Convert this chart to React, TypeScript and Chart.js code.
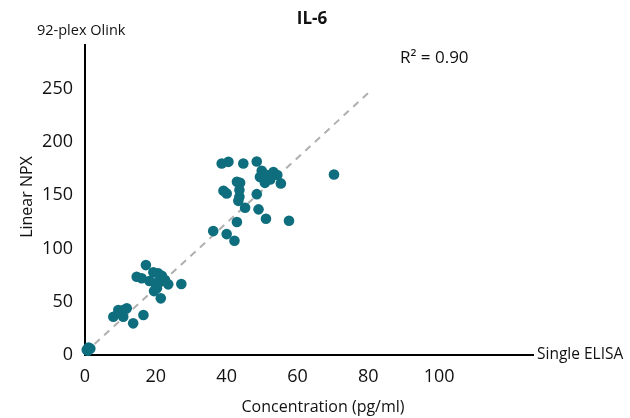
import React, { useEffect, useRef } from "react";
import { Chart, registerables } from "chart.js";

Chart.register(...registerables);

const chartTitle = "IL-6";
const xAxisTitle = "Concentration (pg/ml)";
const yAxisTitle = "Linear NPX";
const yCornerLabel = "92-plex Olink";
const xCornerLabel = "Single ELISA";
const r2Label = "R² = 0.90";

const xTicks = [0, 20, 40, 60, 80, 100];
const yTicks = [0, 50, 100, 150, 200, 250];

// ELISA concentration (pg/ml)
const elisaValues = [
  0.5, 1.0, 1.5, 0.8,
  8.0, 9.4, 10.1, 10.8, 11.8, 10.8, 13.6, 16.5,
  17.2, 14.6, 16.0, 19.3, 20.7, 21.7, 18.2, 19.8, 21.2, 22.6, 23.5, 20.3, 19.5, 27.2, 21.4,
  38.6, 40.5, 44.7, 48.5, 49.9, 51.1, 53.2, 54.3, 55.3, 50.8, 52.3, 49.4,
  42.9, 43.8, 39.1, 40.0, 43.6, 43.6, 43.3, 48.5, 45.2, 49.0,
  42.9, 51.1, 57.6, 36.2, 40.0, 42.2, 70.3,
];
// Olink linear NPX
const npxValues = [
  5, 7, 6, 4,
  35.9, 42.2, 39.1, 35.9, 43.8, 42.2, 29.7, 37.5,
  84.4, 73.5, 72.0, 77.6, 76.6, 74.4, 69.4, 67.3, 68.8, 70.4, 66.3, 62.6, 60.0, 66.6, 53.2,
  179.8, 181.3, 179.8, 181.7, 172.9, 169.1, 171.7, 168.9, 161.1, 161.6, 164.8, 167.0,
  162.6, 161.6, 154.1, 151.7, 154.8, 148.5, 144.7, 151.0, 138.2, 136.7,
  124.8, 127.9, 126.0, 116.3, 113.5, 107.2, 169.5,
];

const trendX = [0, 80];
const trendY = [2, 246];

const textColor = "#111111";
const fontFamily = "'Open Sans', 'Noto Sans', sans-serif";

const textPlugin = {
  id: "extraText",
  afterDraw(chart: any) {
    const ctx = chart.ctx;
    ctx.save();
    ctx.fillStyle = textColor;
    ctx.textBaseline = "middle";

    ctx.font = `bold 17px ${fontFamily}`;
    ctx.textAlign = "center";
    ctx.fillText(chartTitle, 312, 19);

    ctx.font = `14.5px ${fontFamily}`;
    ctx.textAlign = "left";
    ctx.fillText(yCornerLabel, 37, 31);
    ctx.font = `15.5px ${fontFamily}`;
    ctx.fillText(xCornerLabel, 537, 355);

    ctx.font = `17px ${fontFamily}`;
    ctx.fillText(r2Label, 400, 58);

    ctx.font = `16px ${fontFamily}`;
    ctx.textAlign = "center";
    ctx.fillText(xAxisTitle, 323, 407);

    ctx.translate(27, 197);
    ctx.rotate(-Math.PI / 2);
    ctx.fillText(yAxisTitle, 0, 0);
    ctx.restore();
  },
};

export default function App() {
  const canvasRef = useRef<HTMLCanvasElement | null>(null);

  useEffect(() => {
    document.body.style.margin = "0";
    const canvas = canvasRef.current;
    if (!canvas) return;
    const points = elisaValues.map((x, i) => ({ x, y: npxValues[i] }));
    const trend = trendX.map((x, i) => ({ x, y: trendY[i] }));
    const chart = new Chart(canvas, {
      type: "scatter",
      data: {
        datasets: [
          {
            type: "line",
            data: trend,
            borderColor: "#AFAFAF",
            borderWidth: 2,
            borderDash: [7, 6],
            pointRadius: 0,
            fill: false,
            order: 2,
          } as any,
          {
            data: points,
            backgroundColor: "#0F6E7D",
            borderColor: "#0F6E7D",
            borderWidth: 0,
            pointRadius: 5.3,
            clip: false,
            order: 1,
          } as any,
        ],
      },
      options: {
        animation: false,
        responsive: false,
        maintainAspectRatio: false,
        devicePixelRatio: 1,
        layout: {
          autoPadding: false,
          padding: { top: 45, right: 97, left: 0, bottom: 0 },
        },
        plugins: {
          legend: { display: false },
          tooltip: { enabled: false },
          title: { display: false },
        },
        scales: {
          x: {
            type: "linear",
            min: 0,
            max: 126.5,
            grid: { display: false, drawTicks: false },
            border: { display: true, color: "#000", width: 2 },
            afterFit: (s: any) => {
              s.height = 63;
            },
            afterBuildTicks: (s: any) => {
              s.ticks = xTicks.map((v) => ({ value: v }));
            },
            ticks: {
              padding: 11,
              color: textColor,
              maxRotation: 0,
              font: { family: fontFamily, size: 18 },
            },
          },
          y: {
            type: "linear",
            min: 0,
            max: 291,
            grid: { display: false, drawTicks: false },
            border: { display: true, color: "#000", width: 2 },
            afterFit: (s: any) => {
              s.width = 85;
            },
            afterBuildTicks: (s: any) => {
              s.ticks = yTicks.map((v) => ({ value: v }));
            },
            ticks: {
              padding: 12,
              color: textColor,
              font: { family: fontFamily, size: 18 },
            },
          },
        },
      },
      plugins: [textPlugin],
    } as any);
    return () => chart.destroy();
  }, []);

  return (
    <div style={{ width: 630, height: 418, position: "relative" }}>
      <canvas ref={canvasRef} width={630} height={418} />
    </div>
  );
}
